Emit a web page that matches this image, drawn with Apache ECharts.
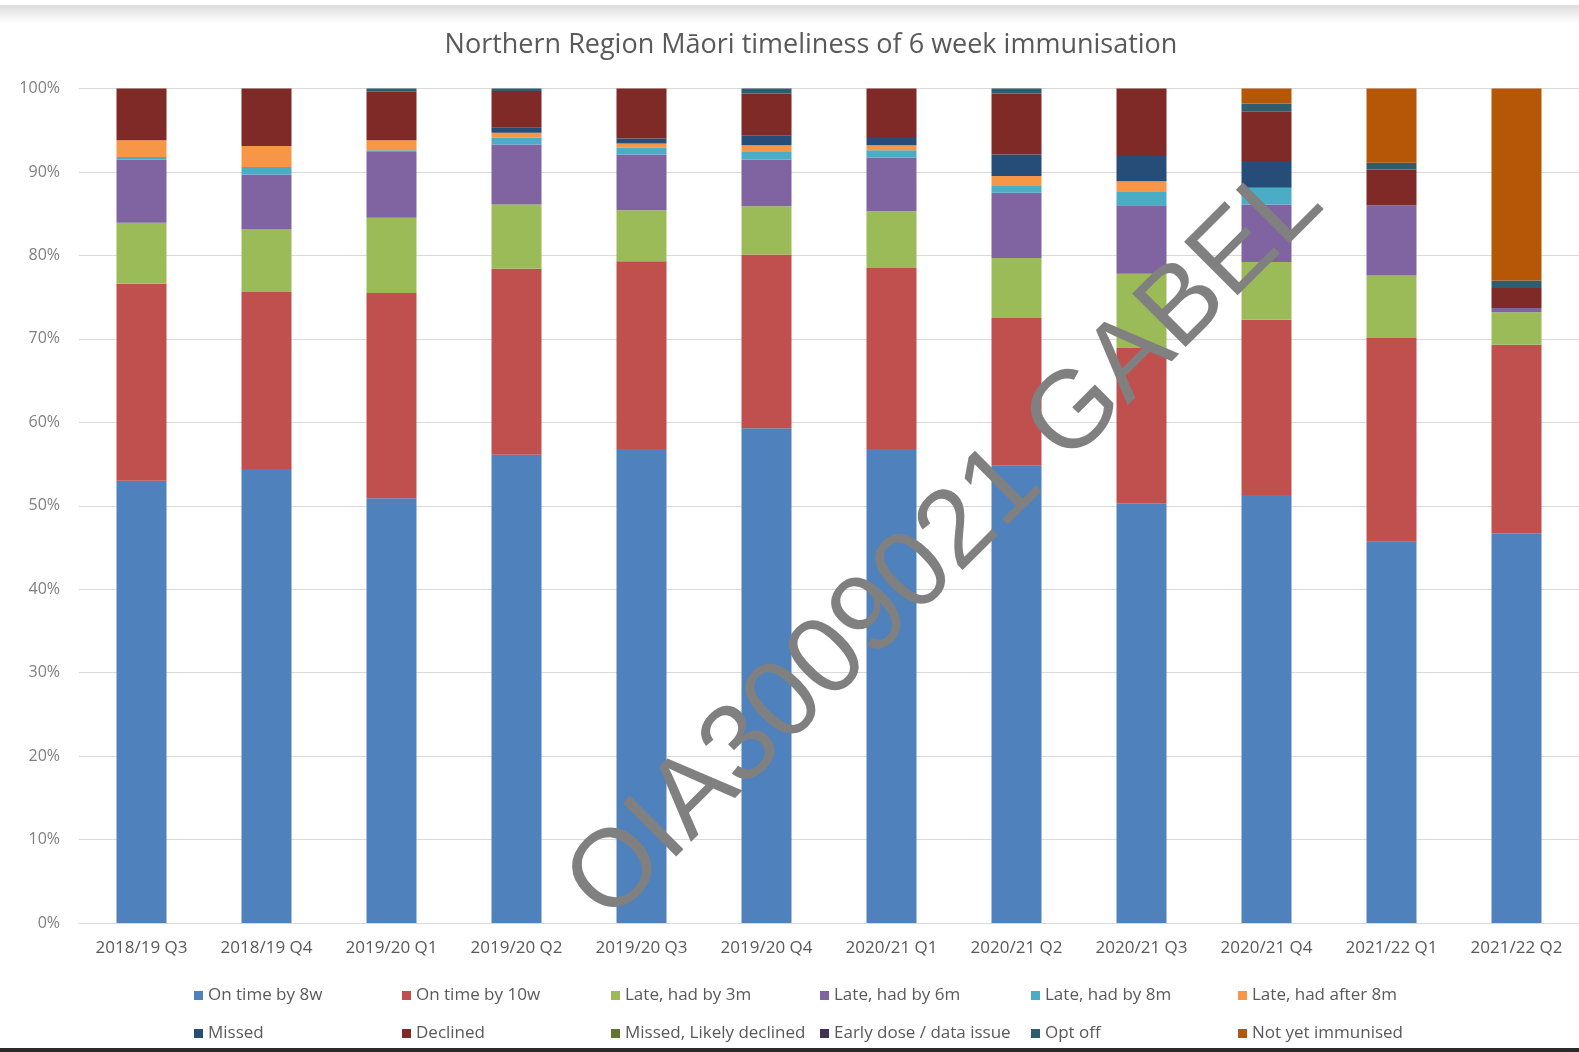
<!DOCTYPE html>
<html>
<head>
<meta charset="utf-8">
<script src="https://cdn.jsdelivr.net/npm/echarts@6/dist/echarts.min.js"></script>
<style>
  html, body { margin: 0; padding: 0; background: #fff; }
  #chart { width: 1579px; height: 1052px; }
</style>
</head>
<body>
<div id="chart"></div>
<script>
// categories (quarters)
var quarters = ['2018/19 Q3', '2018/19 Q4', '2019/20 Q1', '2019/20 Q2', '2019/20 Q3', '2019/20 Q4',
  '2020/21 Q1', '2020/21 Q2', '2020/21 Q3', '2020/21 Q4', '2021/22 Q1', '2021/22 Q2']

// stacked shares, % of cohort (bottom to top)
var onTime8w = [53.0, 54.4, 50.9, 56.1, 56.8, 59.3, 56.8, 54.8, 50.3, 51.3, 45.7, 46.7]
var onTime10w = [23.6, 21.2, 24.6, 22.3, 22.5, 20.8, 21.7, 17.7, 18.6, 21.0, 24.4, 22.6]
var late3m = [7.3, 7.5, 9.0, 7.7, 6.1, 5.8, 6.8, 7.2, 8.9, 6.9, 7.5, 3.9]
var late6m = [7.6, 6.6, 7.9, 7.2, 6.7, 5.6, 6.4, 7.8, 8.2, 6.9, 8.4, 0.5]
var late8m = [0.3, 0.9, 0.2, 0.8, 0.8, 0.9, 0.9, 0.9, 1.7, 2.0, 0, 0]
var lateAfter8m = [2.0, 2.5, 1.2, 0.6, 0.5, 0.8, 0.6, 1.1, 1.2, 0, 0, 0]
var missed = [0, 0, 0, 0.6, 0.6, 1.2, 1.0, 2.6, 3.0, 3.2, 0, 0]
var declined = [6.2, 6.9, 5.8, 4.4, 6.0, 5.0, 5.8, 7.3, 8.1, 5.9, 4.3, 2.4]
var missedLikelyDeclined = [0, 0, 0, 0, 0, 0, 0, 0, 0, 0, 0, 0]
var earlyDose = [0, 0, 0, 0, 0, 0, 0, 0, 0, 0, 0, 0]
var optOff = [0, 0, 0.4, 0.3, 0, 0.6, 0, 0.6, 0, 1.0, 0.8, 0.9]
var notYetImmunised = [0, 0, 0, 0, 0, 0, 0, 0, 0, 1.8, 8.9, 23.0]

var yTicks = [0, 10, 20, 30, 40, 50, 60, 70, 80, 90, 100]

var seriesNames = ['On time by 8w', 'On time by 10w', 'Late, had by 3m', 'Late, had by 6m', 'Late, had by 8m',
  'Late, had after 8m', 'Missed', 'Declined', 'Missed, Likely declined', 'Early dose / data issue', 'Opt off',
  'Not yet immunised']
var seriesData = [onTime8w, onTime10w, late3m, late6m, late8m, lateAfter8m, missed, declined,
  missedLikelyDeclined, earlyDose, optOff, notYetImmunised]
var colors = ['#4f81bd', '#c0504d', '#9bbb59', '#8064a2', '#4bacc6', '#f79646',
  '#264d78', '#7f2a27', '#5f7530', '#3f3151', '#2f5d6e', '#b65708']

var font = '"Open Sans", Lato, sans-serif'

var chart = echarts.init(document.getElementById('chart'), null, { renderer: 'canvas' })

// legend: 6 columns of 2 rows
var legendLeft = [194, 402, 611, 820, 1031, 1238]
var legends = legendLeft.map(function (x, i) {
  return {
    data: [seriesNames[i], seriesNames[i + 6]],
    orient: 'vertical',
    left: x,
    top: 987,
    padding: 0,
    itemGap: 21,
    itemWidth: 9,
    itemHeight: 9,
    icon: 'rect',
    selectedMode: false,
    textStyle: { color: '#595959', fontSize: 17, fontFamily: font, lineHeight: 16 }
  }
})

var option = {
  animation: false,
  color: colors,
  title: {
    text: 'Northern Region Māori timeliness of 6 week immunisation',
    left: 806,
    top: 27,
    textAlign: 'center',
    textStyle: { color: '#595959', fontSize: 27, fontWeight: 'normal', fontFamily: font }
  },
  legend: legends,
  grid: { left: 79, right: -16, top: 88.5, bottom: 129 },
  xAxis: {
    type: 'category',
    data: quarters,
    axisLine: { lineStyle: { color: '#d9d9d9' } },
    axisTick: { show: false },
    axisLabel: { color: '#595959', fontSize: 17, fontFamily: font, margin: 17 }
  },
  yAxis: {
    type: 'value',
    min: yTicks[0],
    max: yTicks[yTicks.length - 1],
    interval: 10,
    axisLine: { show: false },
    axisTick: { show: false },
    splitLine: { lineStyle: { color: '#d9d9d9' } },
    axisLabel: { color: '#7f7f7f', fontSize: 16, fontFamily: font, margin: 19, formatter: '{value}%' }
  },
  series: seriesNames.map(function (name, i) {
    return {
      name: name,
      type: 'bar',
      stack: 'total',
      barWidth: '40%',
      data: seriesData[i],
      itemStyle: { color: colors[i] }
    }
  }),
  graphic: [
    {
      type: 'rect',
      shape: { x: 0, y: 5, width: 1579, height: 18 },
      style: {
        fill: new echarts.graphic.LinearGradient(0, 0, 0, 1, [
          { offset: 0, color: '#dcdcdc' },
          { offset: 1, color: '#ffffff' }
        ])
      },
      silent: true
    },
    {
      type: 'rect',
      shape: { x: 0, y: 1048, width: 1579, height: 4 },
      style: { fill: '#2b2b2b' },
      silent: true
    },
    {
      // watermark
      type: 'text',
      x: 946,
      y: 544,
      rotation: 45 * Math.PI / 180,
      z: 100,
      silent: true,
      style: {
        text: 'OIA3009021 GABEL',
        fill: '#808080',
        font: '110px "Liberation Sans", Arial, sans-serif',
        align: 'center',
        verticalAlign: 'middle'
      }
    }
  ]
}

chart.setOption(option)
</script>
</body>
</html>
